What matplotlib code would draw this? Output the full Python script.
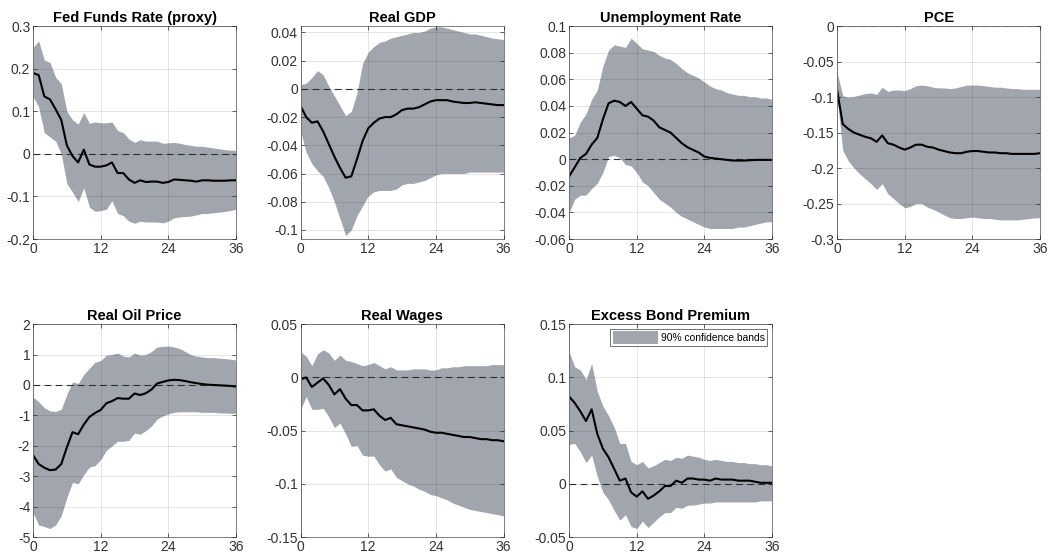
import numpy as np
import matplotlib
matplotlib.use("Agg")
import matplotlib.pyplot as plt
from matplotlib.ticker import FuncFormatter

plt.rcParams['font.family'] = ['Liberation Sans', 'DejaVu Sans']
plt.rcParams['axes.unicode_minus'] = False

horizon = np.arange(37)

titles = ["Fed Funds Rate (proxy)", "Real GDP", "Unemployment Rate", "PCE",
          "Real Oil Price", "Real Wages", "Excess Bond Premium"]

# point estimates and 90% bands
ffr_mid = [0.19, 0.185, 0.135, 0.128, 0.105, 0.08, 0.02, -0.005, -0.02, 0.01, -0.025, -0.03, -0.03,
           -0.027, -0.02, -0.045, -0.045, -0.06, -0.068, -0.062, -0.066, -0.065, -0.065, -0.068, -0.066,
           -0.06, -0.061, -0.062, -0.063, -0.065, -0.062, -0.062, -0.063, -0.063, -0.063, -0.062, -0.062]
ffr_hi = [0.25, 0.265, 0.22, 0.215, 0.18, 0.165, 0.1, 0.08, 0.07, 0.097, 0.072, 0.075, 0.073,
          0.073, 0.075, 0.055, 0.05, 0.035, 0.027, 0.033, 0.03, 0.03, 0.03, 0.025, 0.026,
          0.027, 0.025, 0.022, 0.02, 0.018, 0.018, 0.016, 0.014, 0.012, 0.01, 0.009, 0.008]
ffr_lo = [0.135, 0.11, 0.05, 0.04, 0.03, 0.0, -0.07, -0.09, -0.112, -0.08, -0.125, -0.135, -0.133,
          -0.13, -0.11, -0.14, -0.145, -0.158, -0.163, -0.158, -0.16, -0.16, -0.16, -0.162, -0.158,
          -0.15, -0.148, -0.147, -0.146, -0.143, -0.14, -0.14, -0.138, -0.137, -0.135, -0.133, -0.13]

gdp_mid = [-0.012, -0.02, -0.024, -0.023, -0.03, -0.039, -0.048, -0.056, -0.063, -0.062, -0.05, -0.037, -0.028,
           -0.024, -0.021, -0.02, -0.02, -0.018, -0.015, -0.014, -0.014, -0.013, -0.011, -0.009, -0.008,
           -0.008, -0.008, -0.009, -0.0095, -0.01, -0.01, -0.0095, -0.01, -0.0105, -0.011, -0.0115, -0.0115]
gdp_hi = [0.003, 0.004, 0.008, 0.013, 0.01, 0.002, -0.005, -0.012, -0.019, -0.016, -0.003, 0.018, 0.026,
          0.03, 0.033, 0.034, 0.036, 0.037, 0.038, 0.039, 0.04, 0.04, 0.041, 0.043, 0.044,
          0.044, 0.043, 0.042, 0.041, 0.04, 0.039, 0.039, 0.038, 0.037, 0.036, 0.0355, 0.035]
gdp_lo = [-0.03, -0.045, -0.053, -0.058, -0.062, -0.07, -0.08, -0.092, -0.104, -0.1, -0.09, -0.083, -0.076,
          -0.073, -0.072, -0.072, -0.072, -0.071, -0.068, -0.067, -0.067, -0.066, -0.065, -0.063, -0.061,
          -0.06, -0.06, -0.06, -0.06, -0.06, -0.059, -0.059, -0.059, -0.059, -0.059, -0.059, -0.059]

unr_mid = [-0.013, -0.006, 0.001, 0.004, 0.011, 0.016, 0.03, 0.042, 0.044, 0.043, 0.04, 0.043, 0.038,
           0.033, 0.032, 0.029, 0.024, 0.022, 0.02, 0.016, 0.012, 0.009, 0.007, 0.005, 0.002,
           0.001, 0.0005, 0.0, -0.0005, -0.001, -0.001, -0.001, -0.0008, -0.0005, -0.0005, -0.0005, -0.0005]
unr_hi = [0.016, 0.018, 0.028, 0.034, 0.045, 0.052, 0.07, 0.082, 0.086, 0.085, 0.084, 0.091, 0.087,
          0.083, 0.082, 0.081, 0.078, 0.076, 0.075, 0.072, 0.068, 0.065, 0.063, 0.061, 0.058,
          0.055, 0.053, 0.052, 0.05, 0.049, 0.048, 0.048, 0.047, 0.047, 0.046, 0.046, 0.045]
unr_lo = [-0.04, -0.03, -0.027, -0.027, -0.022, -0.018, -0.01, 0.002, 0.003, 0.001, -0.004, -0.005, -0.01,
          -0.017, -0.02, -0.025, -0.03, -0.033, -0.036, -0.04, -0.043, -0.045, -0.047, -0.049, -0.051,
          -0.052, -0.052, -0.052, -0.052, -0.052, -0.051, -0.051, -0.05, -0.049, -0.048, -0.047, -0.047]

pce_mid = [-0.09, -0.138, -0.145, -0.15, -0.153, -0.156, -0.158, -0.163, -0.154, -0.165, -0.167, -0.171, -0.174,
           -0.171, -0.167, -0.167, -0.17, -0.171, -0.174, -0.176, -0.178, -0.179, -0.179, -0.177, -0.176,
           -0.176, -0.177, -0.178, -0.178, -0.179, -0.179, -0.18, -0.18, -0.18, -0.18, -0.18, -0.179]
pce_hi = [-0.065, -0.098, -0.1, -0.099, -0.097, -0.095, -0.094, -0.096, -0.086, -0.092, -0.09, -0.09, -0.091,
          -0.088, -0.084, -0.083, -0.084, -0.086, -0.087, -0.087, -0.088, -0.087, -0.085, -0.083, -0.083,
          -0.083, -0.084, -0.085, -0.086, -0.086, -0.087, -0.088, -0.088, -0.089, -0.089, -0.089, -0.089]
pce_lo = [-0.1, -0.175, -0.19, -0.2, -0.208, -0.215, -0.222, -0.23, -0.222, -0.236, -0.243, -0.25, -0.256,
          -0.254, -0.25, -0.25, -0.255, -0.258, -0.262, -0.266, -0.27, -0.271, -0.271, -0.27, -0.269,
          -0.27, -0.271, -0.271, -0.272, -0.273, -0.273, -0.273, -0.273, -0.272, -0.271, -0.27, -0.27]

oil_mid = [-2.3, -2.6, -2.72, -2.8, -2.78, -2.6, -2.05, -1.55, -1.62, -1.3, -1.05, -0.92, -0.82,
           -0.6, -0.53, -0.43, -0.45, -0.45, -0.28, -0.33, -0.27, -0.15, 0.05, 0.1, 0.15,
           0.17, 0.16, 0.13, 0.09, 0.06, 0.03, 0.01, 0.0, -0.01, -0.02, -0.03, -0.05]
oil_hi = [-0.4, -0.55, -0.75, -0.85, -0.87, -0.8, -0.3, 0.1, 0.05, 0.35, 0.55, 0.75, 0.8,
          0.98, 1.0, 1.05, 0.95, 0.92, 1.05, 0.98, 1.0, 1.1, 1.25, 1.27, 1.28,
          1.25, 1.2, 1.1, 1.0, 0.95, 0.92, 0.9, 0.9, 0.88, 0.87, 0.85, 0.82]
oil_lo = [-4.2, -4.6, -4.65, -4.72, -4.6, -4.3, -3.7, -3.2, -3.25, -2.95, -2.7, -2.65, -2.45,
          -2.15, -2.0, -1.85, -1.85, -1.82, -1.58, -1.62, -1.5, -1.35, -1.12, -1.02, -0.95,
          -0.9, -0.88, -0.88, -0.88, -0.88, -0.9, -0.9, -0.9, -0.92, -0.92, -0.93, -0.93]

wage_mid = [-0.002, 0.0, -0.009, -0.005, -0.001, -0.007, -0.016, -0.011, -0.02, -0.026, -0.026, -0.031, -0.031,
            -0.03, -0.036, -0.04, -0.038, -0.044, -0.045, -0.046, -0.047, -0.048, -0.049, -0.051, -0.052,
            -0.052, -0.053, -0.054, -0.055, -0.056, -0.056, -0.057, -0.058, -0.058, -0.059, -0.059, -0.06]
wage_hi = [0.024, 0.02, 0.011, 0.022, 0.026, 0.023, 0.016, 0.021, 0.016, 0.015, 0.013, 0.011, 0.012,
           0.014, 0.011, 0.008, 0.01, 0.007, 0.007, 0.007, 0.008, 0.008, 0.008, 0.007, 0.007,
           0.009, 0.009, 0.01, 0.01, 0.011, 0.011, 0.011, 0.011, 0.011, 0.012, 0.012, 0.012]
wage_lo = [-0.03, -0.018, -0.03, -0.03, -0.029, -0.037, -0.047, -0.043, -0.053, -0.065, -0.064, -0.073, -0.074,
           -0.074, -0.082, -0.088, -0.086, -0.094, -0.097, -0.1, -0.102, -0.105, -0.107, -0.11, -0.111,
           -0.113, -0.115, -0.118, -0.12, -0.122, -0.124, -0.125, -0.126, -0.127, -0.128, -0.129, -0.13]

ebp_mid = [0.082, 0.076, 0.068, 0.059, 0.07, 0.047, 0.033, 0.025, 0.014, 0.003, 0.005, -0.008, -0.012,
           -0.007, -0.014, -0.011, -0.007, -0.002, -0.002, 0.003, 0.001, 0.005, 0.005, 0.004, 0.004,
           0.003, 0.005, 0.004, 0.004, 0.004, 0.003, 0.003, 0.003, 0.002, 0.001, 0.001, 0.001]
ebp_hi = [0.124, 0.11, 0.107, 0.098, 0.113, 0.087, 0.073, 0.064, 0.053, 0.038, 0.038, 0.021, 0.018,
          0.021, 0.015, 0.017, 0.02, 0.023, 0.022, 0.025, 0.024, 0.027, 0.026, 0.025, 0.023,
          0.022, 0.023, 0.022, 0.021, 0.021, 0.02, 0.02, 0.019, 0.019, 0.018, 0.018, 0.017]
ebp_lo = [0.037, 0.038, 0.03, 0.02, 0.027, 0.007, -0.008, -0.015, -0.025, -0.034, -0.029, -0.04, -0.042,
          -0.035, -0.041, -0.036, -0.031, -0.027, -0.027, -0.022, -0.023, -0.02, -0.02, -0.019, -0.018,
          -0.018, -0.017, -0.017, -0.017, -0.017, -0.017, -0.017, -0.017, -0.017, -0.016, -0.016, -0.016]

mids = [ffr_mid, gdp_mid, unr_mid, pce_mid, oil_mid, wage_mid, ebp_mid]
his = [ffr_hi, gdp_hi, unr_hi, pce_hi, oil_hi, wage_hi, ebp_hi]
los = [ffr_lo, gdp_lo, unr_lo, pce_lo, oil_lo, wage_lo, ebp_lo]

ylims = [(-0.2, 0.3), (-0.1065, 0.0445), (-0.06, 0.1), (-0.3, 0.0),
         (-5, 2), (-0.15, 0.05), (-0.05, 0.15)]
yticks = [np.arange(-0.2, 0.31, 0.1), np.arange(-0.1, 0.041, 0.02), np.arange(-0.06, 0.101, 0.02),
          np.arange(-0.3, 0.001, 0.05), np.arange(-5, 2.1, 1), np.arange(-0.15, 0.051, 0.05),
          np.arange(-0.05, 0.151, 0.05)]

band_color = '#a1a5ad'
lefts = [0.0315, 0.2865, 0.5425, 0.798]
w, h = 0.1935, 0.383
bottoms = [0.570, 0.034]

fig = plt.figure(figsize=(10.49, 5.56), dpi=100)

def fmt(v, pos):
    s = '%g' % round(v, 6)
    return '0' if s == '-0' else s

for i in range(7):
    r, c = divmod(i, 4)
    ax = fig.add_axes([lefts[c], bottoms[r], w, h])
    band = ax.fill_between(horizon, los[i], his[i], color=band_color, lw=0,
                           label='90% confidence bands')
    ax.axhline(0, color='#333333', lw=0.8, ls=(0, (6, 4)))
    ax.plot(horizon, mids[i], color='black', lw=1.5)
    ax.set_xlim(0, 36)
    ax.set_ylim(*ylims[i])
    ax.set_xticks([0, 12, 24, 36])
    ax.set_yticks(yticks[i])
    ax.yaxis.set_major_formatter(FuncFormatter(fmt))
    ax.grid(True, color='black', alpha=0.12, lw=0.6)
    ax.set_axisbelow(False)
    ax.tick_params(direction='in', length=3, labelsize=10, colors='#262626',
                   labelcolor='#333333', top=True, right=True, width=0.5, pad=2)
    for sp in ax.spines.values():
        sp.set_color('#7f7f7f')
        sp.set_linewidth(0.7)
    ax.set_title(titles[i], fontsize=10.5, fontweight='bold', pad=3)
    if i == 6:
        leg = ax.legend(handles=[band], loc='upper right', fontsize=7.4, frameon=True,
                        fancybox=False, edgecolor='#333333', handlelength=4.4,
                        handleheight=1.5, borderaxespad=0.45, handletextpad=0.3,
                        borderpad=0.25)
        leg.get_frame().set_linewidth(0.6)

fig.savefig('out.png', dpi=100)
